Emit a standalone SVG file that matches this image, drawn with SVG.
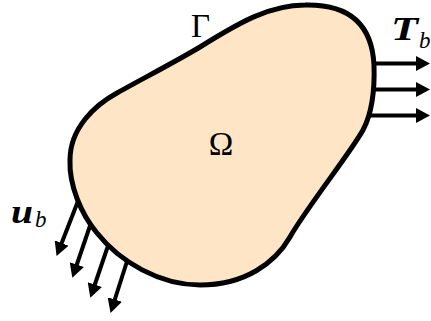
<svg xmlns="http://www.w3.org/2000/svg" width="431" height="321" viewBox="0 0 431 321">
<defs>
<style>
.arr{stroke:#000;stroke-width:4;fill:none;marker-end:url(#ah);}
.lbl{font-family:"Liberation Serif","DejaVu Serif",serif;fill:#000;}
.bi{font-weight:bold;font-style:italic;}
.sub{font-style:italic;font-size:23px;}
</style>
<marker id="ah" markerUnits="userSpaceOnUse" markerWidth="15" markerHeight="15" refX="1" refY="7.5" orient="auto" viewBox="0 0 15 15">
<path d="M0,0 L14,7.5 L0,15 Z" fill="#000"/>
</marker>
</defs>
<rect width="431" height="321" fill="#fff"/>
<g id="connectors">
<line class="arr" x1="360" y1="63.5" x2="417" y2="63.5"/>
<line class="arr" x1="360" y1="89.5" x2="417" y2="89.5"/>
<line class="arr" x1="360" y1="115.5" x2="417" y2="115.5"/>
<line class="arr" x1="80" y1="196" x2="61.3" y2="244"/>
<line class="arr" x1="93" y1="217" x2="76.5" y2="265.5"/>
<line class="arr" x1="111" y1="237" x2="94.5" y2="285.5"/>
<line class="arr" x1="130" y1="252" x2="114.5" y2="300.5"/>
</g>
<g id="domain">
<path d="M305,5 C350,4 372,25 374,65 C375,95 371,115 363,130 C351,152 305,210 290,237 C275,263 245,285 200,285 C160,285 120,262 97,233 C81,214 69,185 70,160 C70,128 95,105 117,93 C140,80 175,62 200,47 C240,22 270,5 305,5 Z" fill="#FDE5C5" stroke="#000" stroke-width="5" stroke-linejoin="round"/>
</g>
<g id="label-gamma"><text class="lbl" x="191" y="37" font-size="33">Γ</text></g>
<g id="label-omega"><text class="lbl" x="221" y="155" font-size="33" text-anchor="middle">Ω</text></g>
<g id="label-Tb"><text class="lbl bi" x="391" y="40" font-size="34" textLength="27" lengthAdjust="spacingAndGlyphs">T</text><text class="lbl sub" x="419" y="48">b</text></g>
<g id="label-ub"><text class="lbl bi" x="11" y="223" font-size="34" textLength="22" lengthAdjust="spacingAndGlyphs">u</text><text class="lbl sub" x="35" y="227">b</text></g>
</svg>
